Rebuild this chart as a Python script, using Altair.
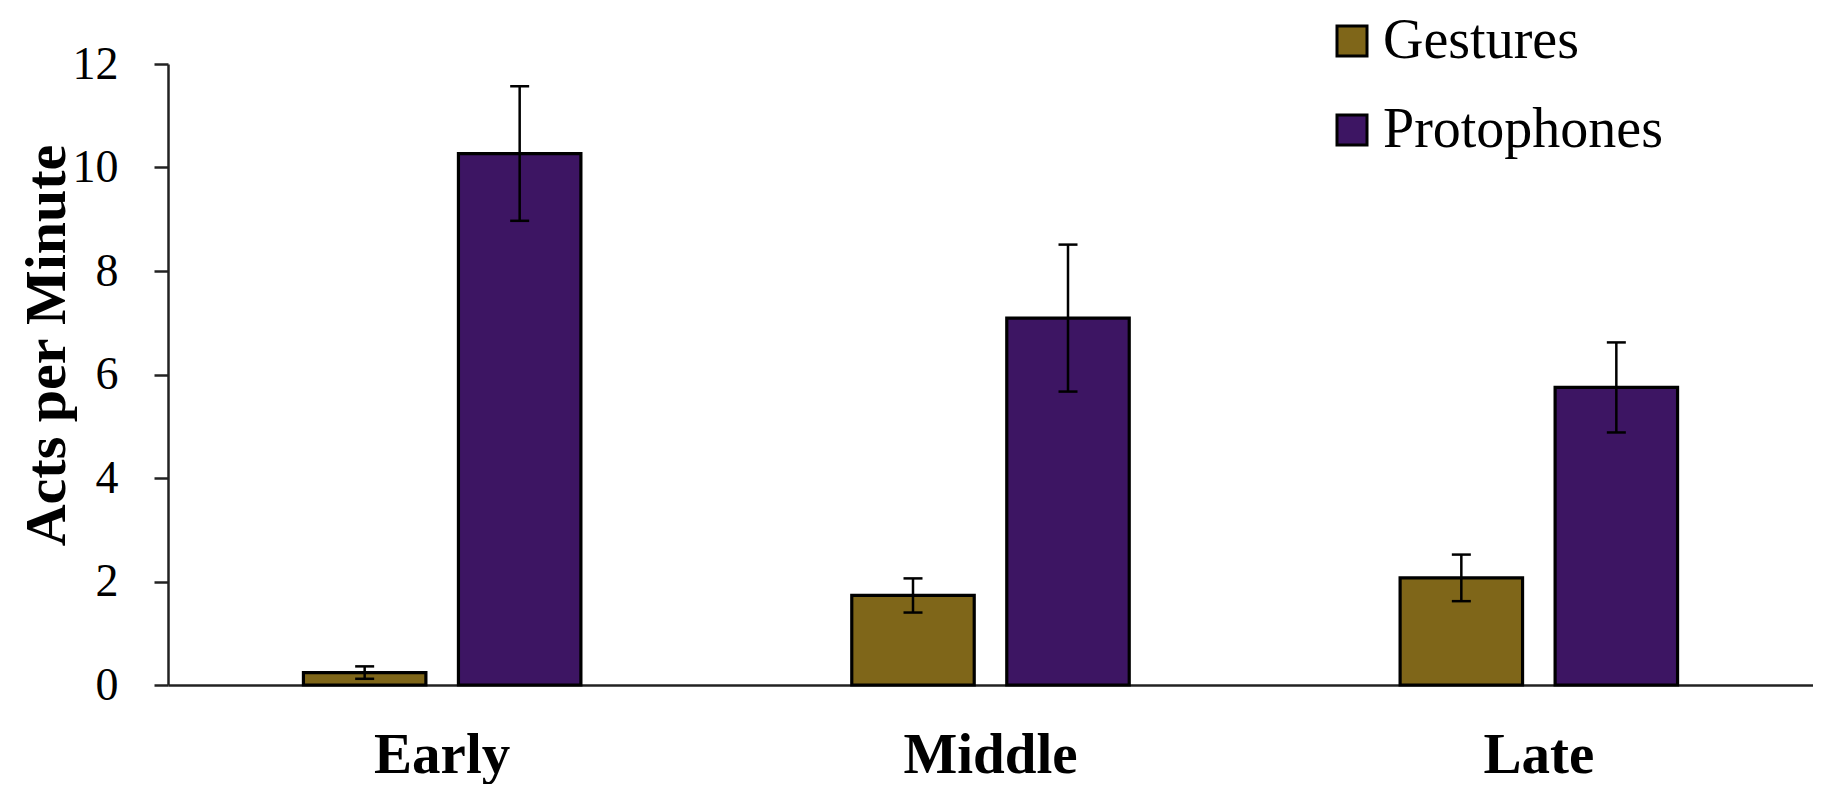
import altair as alt
import pandas as pd

periods = ["Early", "Middle", "Late"]
series = ["Gestures", "Protophones"]
gestures_mean = [0.24, 1.73, 2.07]
gestures_err = [0.12, 0.33, 0.45]
proto_mean = [10.27, 7.09, 5.75]
proto_err = [1.30, 1.42, 0.87]
colors = ["#7F6619", "#3D1563"]
y_ticks = [0, 2, 4, 6, 8, 10, 12]

rows = []
for i, p in enumerate(periods):
    for s, m, e in ((series[0], gestures_mean, gestures_err), (series[1], proto_mean, proto_err)):
        rows.append({"period": p, "series": s, "mean": m[i], "lo": m[i] - e[i], "hi": m[i] + e[i]})
df = pd.DataFrame(rows)

FONT = "Liberation Serif"
YTITLE = "Acts per Minute"

base = alt.Chart(df).encode(
    x=alt.X("period:N", sort=periods, title=None,
            scale=alt.Scale(paddingInner=0.494, paddingOuter=0.247)),
    xOffset=alt.XOffset("series:N", sort=series,
                        scale=alt.Scale(paddingInner=0.21, paddingOuter=0)),
)

yscale = alt.Scale(domain=[0, 12])

bars = base.mark_bar(stroke="black", strokeWidth=3.2, opacity=1).encode(
    y=alt.Y("mean:Q", scale=yscale, title=YTITLE,
            axis=alt.Axis(values=y_ticks)),
    color=alt.Color("series:N", sort=series,
                    scale=alt.Scale(domain=series, range=colors),
                    legend=alt.Legend(title=None)),
)

rules = base.mark_rule(color="black", strokeWidth=2.5).encode(
    y=alt.Y("lo:Q", scale=yscale, title=YTITLE),
    y2="hi:Q",
)
cap_hi = base.mark_tick(color="black", thickness=2.5, size=19, opacity=1).encode(
    y=alt.Y("hi:Q", scale=yscale, title=YTITLE),
)
cap_lo = base.mark_tick(color="black", thickness=2.5, size=19, opacity=1).encode(
    y=alt.Y("lo:Q", scale=yscale, title=YTITLE),
)

chart = alt.layer(bars, rules, cap_hi, cap_lo).properties(
    width=1645, height=621,
    padding={"left": 160, "top": 56, "right": 0, "bottom": 99},
    autosize=alt.AutoSizeParams(type="none"),
    background="white",
).configure_view(stroke=None).configure_axisX(
    labelAngle=0, labelFont=FONT, labelFontSize=57, labelFontWeight="bold",
    labelColor="black", ticks=False, domainColor="#222", domainWidth=2.5,
    labelPadding=42, grid=False,
).configure_axisY(
    labelFont=FONT, labelFontSize=46, labelColor="black", labelPadding=36,
    domainColor="#222", domainWidth=2.5, tickColor="#222", tickWidth=2.5,
    tickSize=14, grid=False,
    titleFont=FONT, titleFontSize=58, titleFontWeight="bold", titleColor="black",
    titleX=-150, titleY=281, titleBaseline="top", titleAlign="center", titleAngle=270,
).configure_legend(
    orient="none", legendX=1156, legendY=-51,
    symbolType="square", symbolSize=900, symbolStrokeColor="black",
    symbolStrokeWidth=3, symbolOpacity=1,
    labelFont=FONT, labelFontSize=56, labelColor="black", labelLimit=600,
    rowPadding=33, labelOffset=3,
)

chart.save("out.html", embed_options={"renderer": "svg", "actions": False})
